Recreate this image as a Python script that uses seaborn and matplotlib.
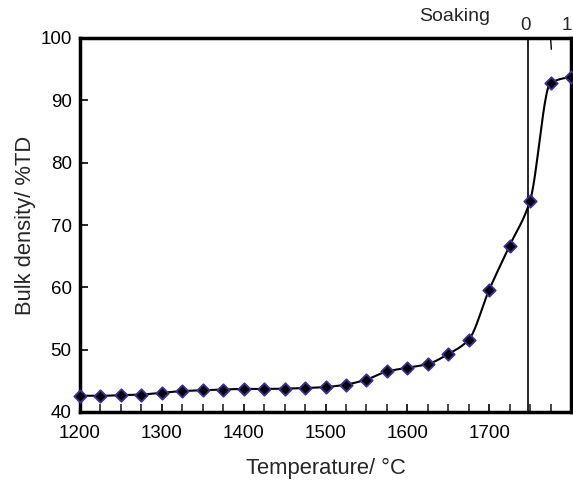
import numpy as np
import pandas as pd
import matplotlib
matplotlib.use("Agg")
import matplotlib.pyplot as plt
import matplotlib.transforms as mtrans
import seaborn as sns

temperature = [1200, 1225, 1250, 1275, 1300, 1325, 1350, 1375, 1400, 1425, 1450,
               1475, 1500, 1525, 1550, 1575, 1600, 1625, 1650, 1675, 1700, 1725,
               1750, 1775, 1800]
density = [42.6, 42.6, 42.7, 42.8, 43.1, 43.35, 43.5, 43.6, 43.7, 43.7, 43.75,
           43.85, 44.0, 44.4, 45.2, 46.5, 47.1, 47.7, 49.3, 51.6, 59.6, 66.7,
           73.9, 92.8, 93.7]
x_ticks = [1200, 1300, 1400, 1500, 1600, 1700]
y_ticks = [40, 50, 60, 70, 80, 90, 100]
soak_start = 1747
soak_labels = ["0", "1"]

sns.set_style("white")
plt.rcParams['font.family'] = ['Liberation Sans', 'DejaVu Sans']


def pchip(x, y, n=25):
    x = np.asarray(x, float)
    y = np.asarray(y, float)
    h = np.diff(x)
    d = np.diff(y) / h
    m = np.zeros_like(y)
    for k in range(1, len(x) - 1):
        if d[k - 1] * d[k] <= 0:
            m[k] = 0.0
        else:
            w1 = 2 * h[k] + h[k - 1]
            w2 = h[k] + 2 * h[k - 1]
            m[k] = (w1 + w2) / (w1 / d[k - 1] + w2 / d[k])
    m[0] = d[0]
    m[-1] = d[-1] * 0.3
    xs, ys = [], []
    t = np.linspace(0, 1, n, endpoint=False)
    for k in range(len(x) - 1):
        h00 = 2 * t**3 - 3 * t**2 + 1
        h10 = t**3 - 2 * t**2 + t
        h01 = -2 * t**3 + 3 * t**2
        h11 = t**3 - t**2
        xs.append(x[k] + t * h[k])
        ys.append(h00 * y[k] + h10 * h[k] * m[k] + h01 * y[k + 1] + h11 * h[k] * m[k + 1])
    xs.append([x[-1]])
    ys.append([y[-1]])
    return np.concatenate(xs), np.concatenate(ys)


sx, sy = pchip(temperature, density)
smooth = pd.DataFrame({"T": sx, "D": sy})
pts = pd.DataFrame({"T": temperature, "D": density})

fig = plt.figure(figsize=(5.73, 4.84), dpi=100)
ax = fig.add_axes([80 / 573, 1 - 412 / 484, (571 - 80) / 573, (412 - 38) / 484])

sns.lineplot(data=smooth, x="T", y="D", ax=ax, color="black", linewidth=1.5,
             sort=False, estimator=None)
sns.scatterplot(data=pts, x="T", y="D", ax=ax, marker="D", s=40, color="black",
                edgecolor="#3b2f9a", linewidth=1.3, zorder=5, clip_on=False)

ax.axvline(soak_start, color="black", linewidth=1.2, zorder=3)

ax.set_xlim(1200, 1800)
ax.set_ylim(40, 100)
ax.set_xticks(x_ticks)
ax.set_xticks(np.arange(1200, 1800, 25), minor=True)
ax.set_yticks(y_ticks)
ax.tick_params(axis="both", which="major", direction="in", length=6, width=1.2,
               labelsize=13.5, pad=9, colors="black")
ax.tick_params(axis="y", which="major", pad=6)
ax.tick_params(axis="x", which="minor", direction="in", length=6, width=1.2)
ax.tick_params(axis="x", which="both", bottom=True, top=False)
ax.tick_params(axis="y", which="both", left=True, right=False)

for s in ax.spines.values():
    s.set_linewidth(2.5)
    s.set_color("black")

ax.set_xlabel("Temperature/ °C", fontsize=15.8, labelpad=12)
ax.set_ylabel("Bulk density/ %TD", fontsize=15.8, labelpad=3)

# soaking axis on top
trans = mtrans.blended_transform_factory(ax.transData, ax.transAxes)
ax.plot([1775, 1776], [1.0, 0.97], transform=trans, color="black", linewidth=1.0,
        clip_on=False)
ax.text(1744, 1.012, soak_labels[0], transform=trans, ha="center",
        va="bottom", fontsize=13.5)
ax.text(1795, 1.012, soak_labels[1], transform=trans, ha="center",
        va="bottom", fontsize=13.5)
ax.text(1658, 1.035, "Soaking", transform=trans, ha="center", va="bottom",
        fontsize=14)

fig.savefig("out.png", dpi=100)
